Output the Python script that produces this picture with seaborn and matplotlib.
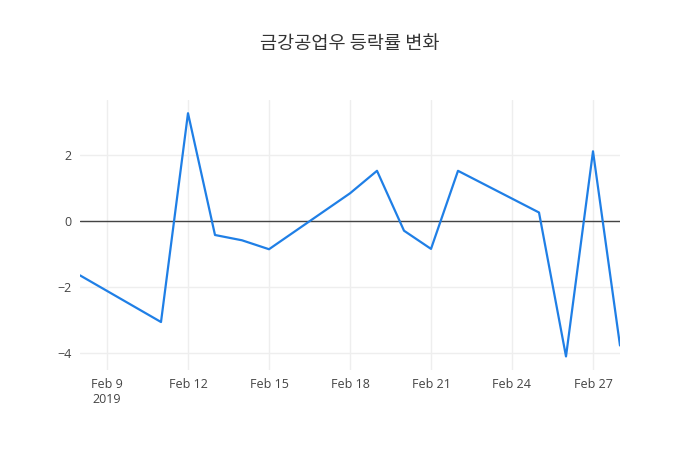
import matplotlib
matplotlib.use("Agg")
import matplotlib.pyplot as plt
import matplotlib.dates as mdates
import seaborn as sns
import pandas as pd
import numpy as np

dates = ["2019-02-08", "2019-02-11", "2019-02-12", "2019-02-13", "2019-02-14",
         "2019-02-15", "2019-02-18", "2019-02-19", "2019-02-20", "2019-02-21",
         "2019-02-22", "2019-02-25", "2019-02-26", "2019-02-27", "2019-02-28"]
changes = [-1.64, -3.05, 3.26, -0.42, -0.58, -0.85, 0.84, 1.52, -0.29, -0.84,
           1.52, 0.26, -4.09, 2.11, -3.76]
tick_dates = ["2019-02-09", "2019-02-12", "2019-02-15", "2019-02-18",
              "2019-02-21", "2019-02-24", "2019-02-27"]
tick_labels = ["Feb 9\n2019", "Feb 12", "Feb 15", "Feb 18", "Feb 21", "Feb 24", "Feb 27"]
title = "금강공업우 등락률 변화"

df = pd.DataFrame({"date": pd.to_datetime(dates), "change": changes})

sns.set_style("white")
plt.rcParams['font.family'] = ['Open Sans', 'Noto Sans CJK KR', 'DejaVu Sans']

fig = plt.figure(figsize=(7, 4.5), dpi=100)
ax = fig.add_axes([80/700, 1-370/450, 540/700, 270/450])

sns.lineplot(data=df, x="date", y="change", ax=ax, color="#1f7fe6", linewidth=1.6, zorder=3)

ax.set_xlim(pd.Timestamp("2019-02-08"), pd.Timestamp("2019-02-28"))
ax.set_ylim(-4.5, 3.66)
ax.set_xticks(pd.to_datetime(tick_dates))
ax.set_xticklabels(tick_labels)
ax.set_yticks([-4, -2, 0, 2])
ax.set_yticklabels(["−4", "−2", "0", "2"])
ax.grid(True, color="#eeeeee", linewidth=1, zorder=0)
ax.axhline(0, color="#444444", linewidth=1, zorder=2)
for s in ax.spines.values():
    s.set_visible(False)
ax.tick_params(axis='both', length=0, labelsize=9, colors="#444444", pad=6)
for lbl in ax.get_xticklabels():
    lbl.set_horizontalalignment('center')
ax.set_xlabel("")
ax.set_ylabel("")

fig.text(0.5, 1-44/450, title, ha="center", va="center", fontsize=13.4,
         color="#333333", family=['Noto Sans CJK KR', 'DejaVu Sans'])

fig.savefig("out.png", dpi=100)
